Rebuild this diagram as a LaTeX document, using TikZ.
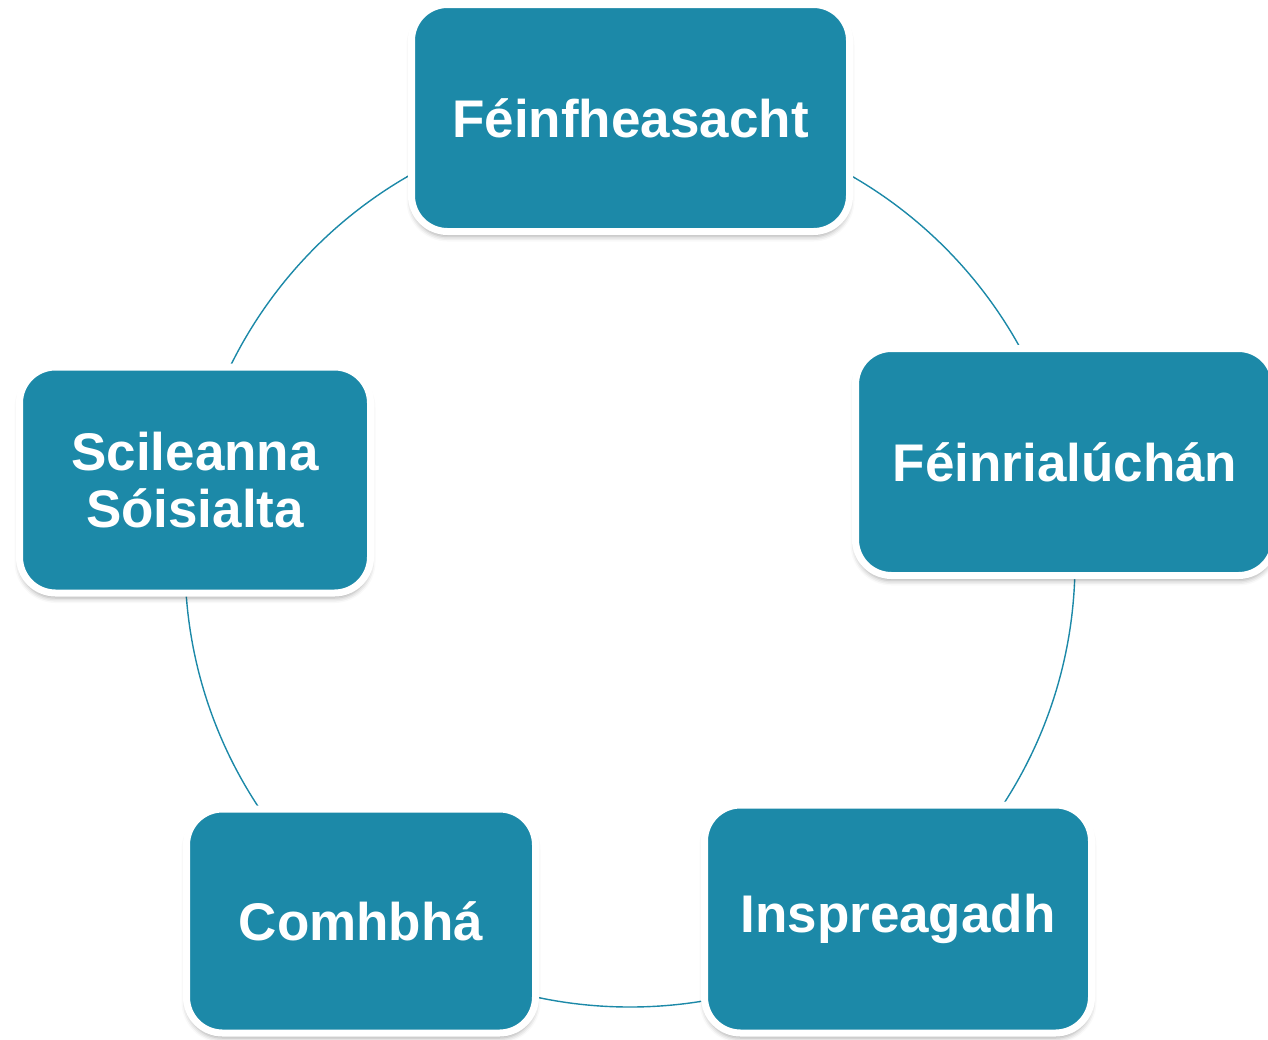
\documentclass[tikz,border=0pt]{standalone}
\usepackage{fontspec}
\setmainfont{Liberation Sans}
\usetikzlibrary{shadows.blur}
\definecolor{tealbox}{RGB}{28,137,168}
\begin{document}
\begin{tikzpicture}[x=1pt,y=-1pt,
  box/.style={rounded corners=36pt, fill=tealbox, draw=white, line width=7pt,
    text=white, font=\fontsize{53}{57}\selectfont\bfseries, align=center, inner sep=0pt,
    blur shadow={shadow xshift=0pt, shadow yshift=-5pt, shadow blur radius=5pt, shadow opacity=35}},
  ringstyle/.style={circle, draw=tealbox, line width=1.4pt, inner sep=0pt}]
\useasboundingbox (0,0) rectangle (1268,1039);
\node[ringstyle, minimum size=890pt] (ring) at (630,562) {};
\node[box, minimum width=438pt, minimum height=227pt] (top) at (630.5,118) {Féinfheasacht};
\node[box, minimum width=419pt, minimum height=227pt] (right) at (1065,462) {Féinrialúchán};
\node[box, minimum width=387pt, minimum height=228pt] (br) at (898,919) {Inspreagadh};
\node[box, minimum width=349pt, minimum height=224pt] (bl) at (361,921) {Comhbhá};
\node[box, minimum width=351pt, minimum height=226pt] (left) at (195,480) {Scileanna\\Sóisialta};
\end{tikzpicture}
\end{document}
